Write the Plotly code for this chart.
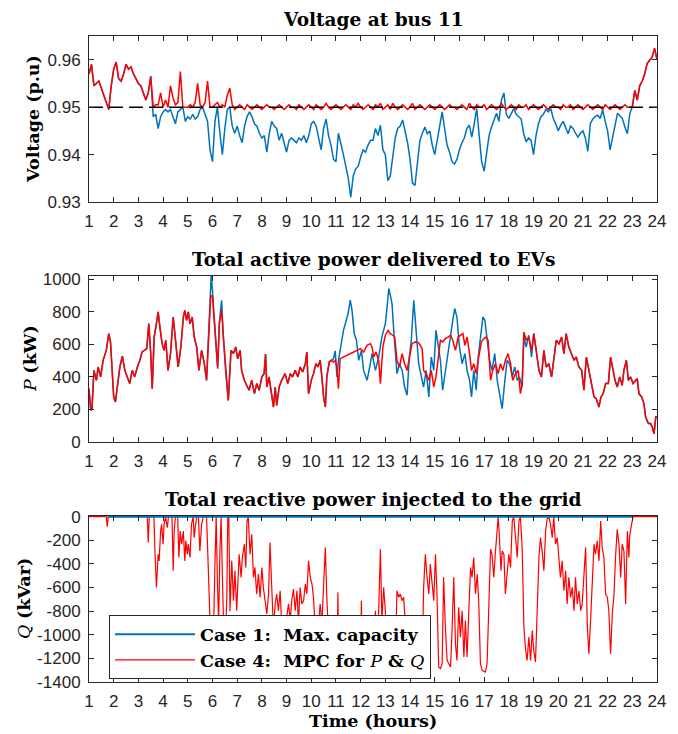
import plotly.graph_objects as go

# ---------------- data ----------------
# time grid (hours) for the voltage traces, 0.1 h step from 1 to 24
hours_v = [round(1 + 0.1 * i, 1) for i in range(231)]

v_case1 = [
    0.957, 0.959, 0.9545, 0.955, 0.9555, 0.954, 0.9525, 0.951, 0.9495, 0.9545,
    0.958, 0.9595, 0.956, 0.9555, 0.957, 0.959, 0.958, 0.9585, 0.957, 0.956,
    0.955, 0.9545, 0.953, 0.9515, 0.953, 0.9565, 0.948, 0.9485, 0.9455, 0.948,
    0.949, 0.9495, 0.949, 0.9495, 0.948, 0.9465, 0.949, 0.9495, 0.950, 0.947,
    0.948, 0.9475, 0.9485, 0.9475, 0.948, 0.9495, 0.950, 0.9485, 0.947, 0.941,
    0.9385, 0.947, 0.950, 0.9445, 0.940, 0.9455, 0.9495, 0.950, 0.946, 0.9445,
    0.946, 0.944, 0.9425, 0.946, 0.948, 0.949, 0.948, 0.9465, 0.946, 0.9445,
    0.9435, 0.944, 0.9405, 0.9445, 0.947, 0.946, 0.9455, 0.943, 0.9445, 0.9425,
    0.9405, 0.943, 0.9435, 0.943, 0.9425, 0.9435, 0.943, 0.944, 0.9425, 0.944,
    0.9465, 0.947, 0.946, 0.9435, 0.941, 0.9455, 0.9475, 0.944, 0.942, 0.939,
    0.9385, 0.9445, 0.9425, 0.940, 0.9375, 0.935, 0.931, 0.9355, 0.937, 0.9375,
    0.9395, 0.941, 0.9405, 0.942, 0.943, 0.943, 0.9455, 0.944, 0.9462, 0.941,
    0.940, 0.9345, 0.9355, 0.9395, 0.9435, 0.9455, 0.946, 0.9473, 0.945, 0.9425,
    0.939, 0.934, 0.9335, 0.938, 0.943, 0.9445, 0.9458, 0.9444, 0.945, 0.942,
    0.940, 0.943, 0.946, 0.949, 0.9455, 0.942, 0.9405, 0.9385, 0.938, 0.939,
    0.941, 0.9425, 0.9435, 0.9455, 0.9462, 0.9437, 0.9465, 0.9497, 0.944, 0.9385,
    0.9365, 0.940, 0.944, 0.9458, 0.9473, 0.9487, 0.947, 0.9515, 0.953, 0.9485,
    0.9476, 0.9485, 0.9497, 0.9485, 0.948, 0.9475, 0.9445, 0.9427, 0.9435, 0.943,
    0.940, 0.944, 0.9465, 0.948, 0.9485, 0.9495, 0.949, 0.9497, 0.9476, 0.9465,
    0.945, 0.9462, 0.947, 0.9455, 0.9444, 0.946, 0.9455, 0.9445, 0.9437, 0.9445,
    0.945, 0.9435, 0.9407, 0.9465, 0.9475, 0.948, 0.9483, 0.9476, 0.9494, 0.947,
    0.945, 0.941, 0.9435, 0.946, 0.9487, 0.9482, 0.9476, 0.9458, 0.9444, 0.9487,
    0.950, 0.9535, 0.9515, 0.9545, 0.9555, 0.957, 0.9592, 0.9599, 0.9605, 0.9624,
    0.9601,
]

v_case4 = [
    0.957, 0.959, 0.9545, 0.955, 0.9555, 0.954, 0.9525, 0.951, 0.9495, 0.9545,
    0.958, 0.9595, 0.956, 0.9555, 0.957, 0.959, 0.958, 0.9585, 0.957, 0.956,
    0.955, 0.9545, 0.953, 0.9515, 0.953, 0.9565, 0.950, 0.9505, 0.9505, 0.953,
    0.950, 0.9515, 0.950, 0.9545, 0.952, 0.9505, 0.951, 0.9575, 0.950, 0.950,
    0.950, 0.9505, 0.950, 0.951, 0.955, 0.9505, 0.950, 0.951, 0.9555, 0.950,
    0.950, 0.9505, 0.951, 0.950, 0.9505, 0.950, 0.9525, 0.954, 0.9505, 0.9495,
    0.950, 0.9505, 0.950, 0.9495, 0.9505, 0.950, 0.9495, 0.950, 0.9505, 0.950,
    0.9495, 0.950, 0.9505, 0.950, 0.950, 0.9495, 0.950, 0.9505, 0.950, 0.9495,
    0.950, 0.9505, 0.950, 0.950, 0.9495, 0.9505, 0.950, 0.9495, 0.950, 0.9505,
    0.950, 0.9495, 0.9505, 0.950, 0.9495, 0.950, 0.9508, 0.950, 0.9495, 0.950,
    0.9505, 0.950, 0.9495, 0.950, 0.9505, 0.950, 0.9495, 0.9505, 0.950, 0.9508,
    0.950, 0.9495, 0.950, 0.9505, 0.950, 0.9495, 0.9505, 0.950, 0.9508, 0.9495,
    0.950, 0.9505, 0.9495, 0.9508, 0.950, 0.9495, 0.950, 0.9505, 0.950, 0.9495,
    0.950, 0.9508, 0.9495, 0.950, 0.9505, 0.950, 0.9495, 0.950, 0.9505, 0.950,
    0.9495, 0.950, 0.9505, 0.950, 0.9495, 0.950, 0.9505, 0.950, 0.950, 0.9495,
    0.950, 0.9505, 0.950, 0.9495, 0.9508, 0.950, 0.9495, 0.9505, 0.950, 0.950,
    0.9505, 0.9495, 0.950, 0.9505, 0.950, 0.9495, 0.950, 0.9508, 0.950, 0.9495,
    0.950, 0.9505, 0.950, 0.9495, 0.9505, 0.950, 0.950, 0.9505, 0.9495, 0.950,
    0.9505, 0.950, 0.9495, 0.950, 0.9505, 0.950, 0.9495, 0.950, 0.9505, 0.950,
    0.950, 0.9495, 0.9505, 0.950, 0.950, 0.9505, 0.9495, 0.950, 0.9505, 0.950,
    0.9495, 0.950, 0.9505, 0.950, 0.9495, 0.950, 0.9505, 0.950, 0.9495, 0.9505,
    0.950, 0.9495, 0.950, 0.9505, 0.950, 0.9495, 0.950, 0.9505, 0.950, 0.950,
    0.950, 0.9535, 0.9515, 0.9545, 0.9555, 0.957, 0.9592, 0.9599, 0.9605, 0.9624,
    0.9601,
]

v_limit = 0.95

# active power, case 4 (MPC)
p4_t = [1.0, 1.07, 1.12, 1.2, 1.3, 1.37, 1.47, 1.57, 1.7, 1.8, 1.87, 1.93, 2.0, 2.07, 2.15, 2.25,
        2.35, 2.45, 2.55, 2.65, 2.75, 2.85, 2.96, 3.06, 3.15, 3.26, 3.34, 3.42, 3.5, 3.56, 3.64,
        3.73, 3.8, 3.87, 3.96, 4.04, 4.11, 4.2, 4.3, 4.41, 4.5, 4.61, 4.72, 4.82, 4.88, 4.95,
        5.02, 5.09, 5.18, 5.26, 5.36, 5.45, 5.56, 5.67, 5.76, 5.86, 5.93, 6.0, 6.07, 6.14, 6.21,
        6.28, 6.37, 6.44, 6.53, 6.64, 6.75, 6.85, 6.94, 7.02, 7.12, 7.18, 7.29, 7.39, 7.48, 7.59,
        7.7, 7.79, 7.89, 8.0, 8.09, 8.15, 8.2, 8.29, 8.4, 8.47, 8.54, 8.6, 8.7, 8.8, 8.94, 9.05,
        9.15, 9.24, 9.35, 9.46, 9.55, 9.65, 9.76, 9.82, 9.89, 10.0, 10.09, 10.19, 10.27, 10.36,
        10.43, 10.5, 10.57, 10.63, 10.73, 10.81, 10.9, 10.97, 11.04, 11.1, 11.17, 11.31, 11.51,
        11.72, 11.85, 11.99, 12.12, 12.26, 12.39, 12.46, 12.53, 12.62, 12.73, 12.8, 12.9, 13.0,
        13.11, 13.2, 13.3, 13.38, 13.47, 13.57, 13.68, 13.78, 13.88, 13.97, 14.08, 14.22, 14.35,
        14.49, 14.55, 14.65, 14.76, 14.86, 14.96, 15.05, 15.14, 15.23, 15.32, 15.43, 15.54,
        15.64, 15.73, 15.84, 15.95, 16.04, 16.14, 16.22, 16.31, 16.41, 16.49, 16.58, 16.68,
        16.78, 16.89, 16.99, 17.08, 17.16, 17.26, 17.35, 17.46, 17.57, 17.66, 17.76, 17.86,
        17.97, 18.07, 18.16, 18.27, 18.38, 18.47, 18.54, 18.61, 18.7, 18.81, 18.92, 19.01,
        19.11, 19.22, 19.32, 19.42, 19.51, 19.62, 19.73, 19.82, 19.92, 20.03, 20.14, 20.23,
        20.32, 20.43, 20.54, 20.64, 20.73, 20.84, 20.95, 21.04, 21.14, 21.24, 21.35, 21.45,
        21.54, 21.65, 21.73, 21.82, 21.92, 22.03, 22.12, 22.22, 22.3, 22.39, 22.49, 22.59,
        22.66, 22.76, 22.84, 22.93, 23.03, 23.14, 23.2, 23.27, 23.38, 23.47, 23.54, 23.65,
        23.74, 23.81, 23.88, 23.95, 24.0]
p4_v = [328, 195, 205, 440, 379, 461, 400, 502, 563, 666, 615, 440, 277, 246, 359, 461,
        527, 440, 400, 359, 440, 400, 461, 502, 553, 563, 574, 727, 543, 328, 645,
        727, 799, 707, 604, 563, 625, 440, 543, 768, 645, 461, 584, 768, 809, 748,
        799, 727, 768, 645, 584, 440, 563, 481, 379, 748, 902, 891, 748, 584, 461,
        727, 809, 645, 440, 256, 563, 543, 584, 512, 563, 440, 379, 348, 318, 379,
        297, 359, 318, 400, 420, 540, 338, 400, 297, 215, 338, 225, 338, 379, 420, 359,
        420, 400, 440, 400, 461, 430, 481, 553, 297, 379, 420, 481, 461, 502,
        400, 277, 215, 400, 492, 502, 492, 502, 461, 328, 512, 522, 533,
        553, 563, 574, 553, 594, 604, 584, 522, 553, 502, 359, 584, 656,
        686, 666, 656, 645, 502, 461, 543, 481, 440, 522, 604, 615, 609,
        574, 440, 420, 379, 440, 338, 400, 522, 625, 615, 635, 645,
        656, 625, 563, 645, 656, 666, 594, 645, 543, 440, 481, 420,
        522, 615, 635, 645, 625, 379, 440, 481, 420, 481, 440, 502,
        543, 481, 379, 420, 440, 297, 359, 676, 625, 645, 563, 666,
        563, 440, 400, 563, 461, 481, 400, 502, 625, 604, 645, 543,
        666, 584, 543, 502, 522, 461, 440, 318, 522, 440, 359, 277,
        266, 215, 277, 297, 359, 359, 522, 440, 379, 338, 400, 348,
        440, 502, 379, 400, 359, 379, 389, 297, 277, 236, 154, 113,
        113, 92, 51, 154, 154]

# active power, case 1 (max capacity): segments where it differs from case 4
p1_seg_a_t = [5.9, 5.95, 6.0, 6.07, 6.14, 6.21, 6.28, 6.37, 6.44]
p1_seg_a_v = [800, 1030, 930, 760, 560, 450, 740, 870, 650]
p1_seg_b_t = [10.9, 10.97, 11.04, 11.1, 11.17, 11.24, 11.31, 11.38, 11.49, 11.58, 11.65, 11.74,
              11.83, 11.92, 12.03, 12.12, 12.26, 12.39, 12.46, 12.6, 12.73, 12.86, 13.0, 13.07,
              13.14, 13.2, 13.27, 13.34, 13.41, 13.47, 13.57, 13.68, 13.78, 13.88, 13.97, 14.05,
              14.15, 14.24, 14.35, 14.46, 14.55, 14.65, 14.76, 14.86, 14.96, 15.05, 15.14, 15.23,
              15.32, 15.43, 15.54, 15.64, 15.73, 15.81, 15.9, 16.0, 16.11, 16.22, 16.31, 16.41,
              16.49, 16.58, 16.68, 16.76, 16.85, 16.95, 17.03, 17.12, 17.22, 17.32, 17.43, 17.53,
              17.62, 17.73, 17.84, 17.93, 18.03, 18.14, 18.24, 18.34, 18.43, 18.54, 18.61, 18.7,
              18.81, 18.92, 19.01]
p1_seg_b_v = [512, 560, 400, 500, 560, 635, 690, 727, 789, 871, 809, 666,
              625, 502, 563, 440, 379, 480, 543, 440, 522, 645, 727, 830,
              943, 902, 850, 686, 563, 420, 481, 440, 338, 287, 522, 625,
              871, 707, 481, 400, 338, 440, 277, 522, 440, 686, 584, 502,
              318, 440, 543, 645, 748, 820, 768, 584, 481, 543, 440, 379,
              277, 440, 318, 522, 645, 768, 748, 645, 502, 440, 543, 379,
              297, 205, 379, 502, 481, 400, 461, 379, 400, 338, 645, 584,
              656, 522, 666]

# reactive power, case 4 (MPC); case 1 stays at zero
q4_t = [1.0, 1.7, 1.74, 1.78, 3.36, 3.4, 3.44, 3.63, 3.67, 3.73, 3.8, 3.84, 3.9, 3.94, 4.0, 4.04,
        4.1, 4.17, 4.22, 4.36, 4.41, 4.45, 4.5, 4.59, 4.64, 4.69, 4.75, 4.82, 4.88, 4.92, 4.98,
        5.02, 5.09, 5.15, 5.22, 5.26, 5.32, 5.36, 5.43, 5.49, 5.56, 5.63, 5.76, 5.8, 5.86, 5.92,
        5.98, 6.05, 6.1, 6.15, 6.2, 6.25, 6.3, 6.35, 6.4, 6.45, 6.52, 6.58, 6.62, 6.66, 6.71,
        6.78, 6.85, 6.91, 6.98, 7.02, 7.08, 7.16, 7.21, 7.29, 7.35, 7.4, 7.45, 7.52, 7.59, 7.66,
        7.72, 7.79, 7.86, 7.93, 8.0, 8.06, 8.13, 8.2, 8.27, 8.33, 8.4, 8.47, 8.54, 8.6, 8.67,
        8.74, 8.8, 8.87, 8.94, 9.0, 9.08, 9.15, 9.21, 9.28, 9.35, 9.42, 9.48, 9.55, 9.62, 9.69,
        9.76, 9.82, 9.89, 9.96, 10.03, 10.09, 10.16, 10.23, 10.3, 10.36, 10.43, 10.5, 10.57,
        10.63, 10.7, 10.8, 10.9, 11.04, 11.08, 11.12, 11.24, 11.45, 11.65, 11.78, 11.92, 11.99,
        12.03, 12.07, 12.2, 12.33, 12.46, 12.6, 12.66, 12.73, 12.8, 12.86, 12.93, 13.0, 13.07,
        13.2, 13.27, 13.4, 13.47, 13.54, 13.6, 13.68, 13.74, 13.81, 13.88, 14.01, 14.15, 14.28,
        14.42, 14.49, 14.55, 14.62, 14.69, 14.76, 14.82, 14.89, 14.96, 15.03, 15.09, 15.16,
        15.23, 15.3, 15.36, 15.43, 15.5, 15.57, 15.64, 15.7, 15.77, 15.84, 15.9, 15.97, 16.04,
        16.11, 16.18, 16.24, 16.31, 16.38, 16.45, 16.51, 16.58, 16.65, 16.72, 16.78, 16.85,
        16.92, 17.05, 17.12, 17.19, 17.26, 17.32, 17.39, 17.46, 17.53, 17.57, 17.62, 17.68,
        17.73, 17.8, 17.86, 17.93, 18.0, 18.07, 18.14, 18.2, 18.27, 18.34, 18.41, 18.47, 18.54,
        18.61, 18.68, 18.74, 18.81, 18.88, 18.95, 19.01, 19.08, 19.15, 19.22, 19.28, 19.35,
        19.42, 19.49, 19.55, 19.62, 19.69, 19.76, 19.82, 19.89, 19.96, 20.03, 20.09, 20.16,
        20.23, 20.3, 20.36, 20.43, 20.5, 20.57, 20.64, 20.7, 20.77, 20.84, 20.91, 20.97, 21.04,
        21.11, 21.18, 21.24, 21.31, 21.38, 21.45, 21.51, 21.58, 21.65, 21.72, 21.78, 21.85,
        21.92, 21.99, 22.05, 22.12, 22.19, 22.26, 22.32, 22.39, 22.46, 22.53, 22.59, 22.66,
        22.73, 22.8, 22.86, 22.9, 22.97, 23.03, 24.0]
q4_v = [0, 0, -85, 0, 0, -219, 0, 0, -290, -599, -318, -374, -121, -65, -233, -65,
        0, -93, 0, 0, -458, -121, 0, 0, -346, -121, -233, -121, -374, -205, -318,
        -233, -346, -65, 0, -177, -65, 0, 0, -290, -65, 0, 0, -300, -700, -1000,
        -1100, -900, -400, 0, -550, -900, -300, 0, -500, -900, -1050, -700, 0, 0, -800,
        -374, -711, -458, -796, -570, -318, -514, -346, -233, -430, -37, 0, -318, -149, -514,
        -430, -655, -486, -683, -430, -599, -711, -824, -655, -219, -599, -950, -739, -655, -796,
        -627, -900, -1000, -950, -850, -739, -880, -711, -613, -796, -627, -900, -599, -739, -711,
        -570, -655, -374, -514, -570, -683, -950, -1050, -900, -739, -900, -514, -261,
        -683, -1000, -1150, -1250, -1301, -640, -1330, -1358, -1372, -1358, -1300, -1330, -1300,
        -711, -1320, -1330, -1310, -1287, -796, -1270, -796, -275, -880, -599, -796, -1100,
        -1273, -1301, -1273, -627, -683, -655, -711, -683, -900, -1273, -1301, -1358, -1330,
        -1273, -1245, -599, -318, -514, -655, -402, -599, -711, -318, -655, -1273,
        -1287, -1245, -514, -936, -1217, -1245, -1273, -964, -514, -1077, -1217, -767, -1020,
        -796, -1189, -880, -1189, -796, -430, -514, -346, -655, -486, -711, -1245,
        -1301, -1316, -1245, -796, -275, -318, -514, -290, -121, 0, -177, -458,
        -290, -318, -655, -458, -318, -430, -37, 0, -177, -346, -37, 0, -261,
        -936, -1133, -1217, -1020, -1217, -964, -1133, -1231, -796, -346, -177, -290,
        -458, -121, -22, 0, -65, -177, 0, -233, -177, -402, -514, -374,
        -627, -458, -739, -514, -683, -599, -796, -514, -739, -627, -796, -739, -458,
        -261, -936, -1161, -880, -514, -233, -318, -205, -374, -37, -261, -346,
        -655, -683, -796, -1161, -824, -655, -346, -107, -233, -514, -233, -290,
        -739, -121, -346, -149, -65, 0, 0]

q1_t = [1.75, 23.0]
q1_v = [0, 0]

x_ticks = list(range(1, 25))
x_tick_labels = [str(h) for h in x_ticks]
v_ticks = [0.93, 0.94, 0.95, 0.96]
v_tick_labels = ["0.93", "0.94", "0.95", "0.96"]
p_ticks = [0, 200, 400, 600, 800, 1000]
p_tick_labels = ["0", "200", "400", "600", "800", "1000"]
q_ticks = [0, -200, -400, -600, -800, -1000, -1200, -1400]
q_tick_labels = ["0", "-200", "-400", "-600", "-800", "-1000", "-1200", "-1400"]

titles = ["Voltage at bus 11", "Total active power delivered to EVs",
          "Total reactive power injected to the grid"]
series_names = ["<b>Case 1:  Max. capacity</b>",
                "<b>Case 4:  MPC for </b><i>P</i><b> &amp; </b><i>Q</i>"]

# ---------------- build case-1 active power ----------------
p1_t, p1_v = [], []
for t, v in zip(p4_t, p4_v):
    if t < 5.88:
        p1_t.append(t); p1_v.append(v)
p1_t += p1_seg_a_t; p1_v += p1_seg_a_v
for t, v in zip(p4_t, p4_v):
    if 6.45 < t < 10.85:
        p1_t.append(t); p1_v.append(v)
p1_t += p1_seg_b_t; p1_v += p1_seg_b_v
for t, v in zip(p4_t, p4_v):
    if t > 19.05:
        p1_t.append(t); p1_v.append(v)

# ---------------- figure ----------------
BLUE = "#0072BD"
RED = "#FF0000"
AX = "#262626"
SERIF = "DejaVu Serif"
SANS = "Liberation Sans"

fig = go.Figure()
fig.add_trace(go.Scatter(x=hours_v, y=v_case1, mode="lines", line=dict(color=BLUE, width=1.5),
                         xaxis="x", yaxis="y", showlegend=False))
fig.add_trace(go.Scatter(x=hours_v, y=v_case4, mode="lines", line=dict(color=RED, width=1.5),
                         xaxis="x", yaxis="y", showlegend=False))
fig.add_trace(go.Scatter(x=[1, 24], y=[v_limit, v_limit], mode="lines",
                         line=dict(color="black", width=1.5, dash="14px,6px"),
                         xaxis="x", yaxis="y", showlegend=False))
fig.add_trace(go.Scatter(x=p1_t, y=p1_v, mode="lines", line=dict(color=BLUE, width=1.5),
                         xaxis="x2", yaxis="y2", showlegend=False))
fig.add_trace(go.Scatter(x=p4_t, y=p4_v, mode="lines", line=dict(color=RED, width=1.5),
                         xaxis="x2", yaxis="y2", showlegend=False))
fig.add_trace(go.Scatter(x=q4_t, y=q4_v, mode="lines", line=dict(color=RED, width=1.2),
                         xaxis="x3", yaxis="y3", name=series_names[1], legendrank=2))
fig.add_trace(go.Scatter(x=q1_t, y=q1_v, mode="lines", line=dict(color=BLUE, width=2),
                         xaxis="x3", yaxis="y3", name=series_names[0], legendrank=1))

common = dict(showline=True, linecolor=AX, linewidth=1, mirror="ticks", ticks="inside",
              ticklen=5, tickwidth=1, tickcolor=AX, showgrid=False, zeroline=False,
              automargin=False,
              tickfont=dict(family=SANS, size=17, color=AX), ticklabelstandoff=4)

# the page body adds an 8 px offset, so the figure is 8 px smaller and its
# left/top margins 8 px narrower to keep the plot boxes where they belong
doms = [[0.7430, 1.0], [0.3715, 0.6285], [0.0, 0.2570]]
layout = dict(
    width=670, height=726, paper_bgcolor="white", plot_bgcolor="white",
    margin=dict(l=81, r=21, t=28, b=52, autoexpand=False),
    showlegend=True,
    legend=dict(x=0.0352, y=0.1033, xanchor="left", yanchor="top", bgcolor="white",
                bordercolor=AX, borderwidth=1, itemwidth=80,
                font=dict(family=SERIF, size=17.5, color="black"),
                traceorder="normal"),
)
for i, (yname, xname) in enumerate([("yaxis", "xaxis"), ("yaxis2", "xaxis2"), ("yaxis3", "xaxis3")]):
    anchor_y = "y" if i == 0 else "y%d" % (i + 1)
    anchor_x = "x" if i == 0 else "x%d" % (i + 1)
    layout[xname] = dict(common, domain=[0, 1], anchor=anchor_y, range=[1, 24],
                         tickmode="array", tickvals=x_ticks, ticktext=x_tick_labels)
    layout[yname] = dict(common, domain=doms[i], anchor=anchor_x)
layout["yaxis"].update(range=[0.93, 0.965], tickmode="array", tickvals=v_ticks, ticktext=v_tick_labels)
layout["yaxis2"].update(range=[0, 1020], tickmode="array", tickvals=p_ticks, ticktext=p_tick_labels)
layout["yaxis3"].update(range=[-1400, 6], tickmode="array", tickvals=q_ticks, ticktext=q_tick_labels,
                        layer="below traces")
fig.update_layout(**layout)

ann = []
for i, t in enumerate(titles):
    ann.append(dict(text="<b>%s</b>" % t, x=0.5, y=doms[i][1], xref="paper", yref="paper",
                    xanchor="center", yanchor="bottom", yshift=4, showarrow=False,
                    font=dict(family=SERIF, size=18.5, color="black")))
ylabels = [("<b>Voltage (p.u)</b>", -56), ("<i>P</i> <b>(kW)</b>", -59), ("<i>Q</i> <b>(kVar)</b>", -65)]
for i, (t, xs) in enumerate(ylabels):
    ann.append(dict(text=t, x=0, y=(doms[i][0] + doms[i][1]) / 2, xref="paper", yref="paper",
                    xanchor="center", yanchor="middle", xshift=xs, textangle=-90, showarrow=False,
                    font=dict(family=SERIF, size=17.5, color="black")))
ann.append(dict(text="<b>Time (hours)</b>", x=0.5, y=0, xref="paper", yref="paper",
                xanchor="center", yanchor="top", yshift=-27, showarrow=False,
                font=dict(family=SERIF, size=17.5, color="black")))
fig.update_layout(annotations=ann)

fig.write_html("out.html")
